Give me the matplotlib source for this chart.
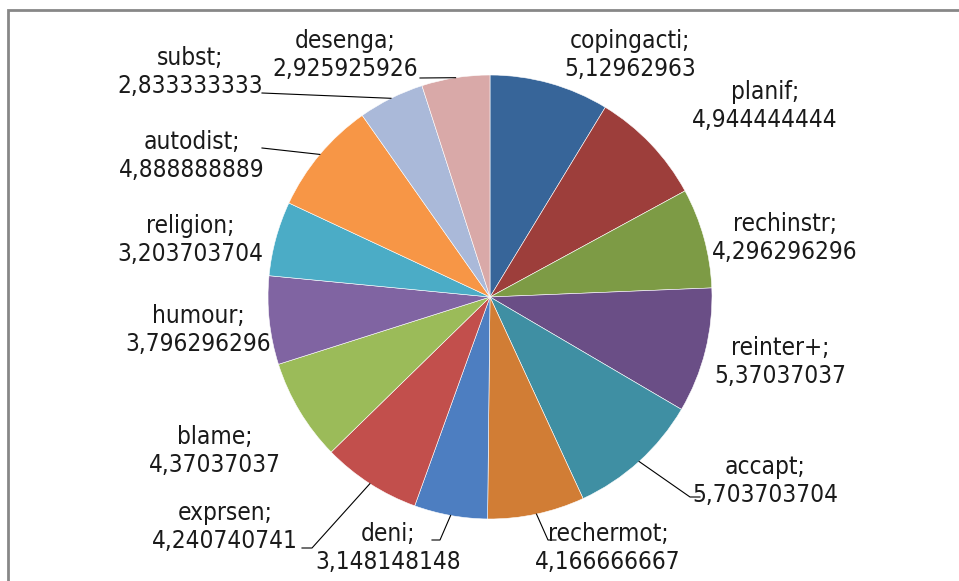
import matplotlib
matplotlib.use('Agg')
import numpy as np
from matplotlib import pyplot as plt
from matplotlib.patches import Rectangle

plt.rcParams['font.family'] = ['DejaVu Sans']

labels = ["copingacti", "planif", "rechinstr", "reinter+", "accapt", "rechermot", "deni",
          "exprsen", "blame", "humour", "religion", "autodist", "subst", "desenga"]
values = [5.12962963, 4.944444444, 4.296296296, 5.37037037, 5.703703704, 4.166666667,
          3.148148148, 4.240740741, 4.37037037, 3.796296296, 3.203703704, 4.888888889,
          2.833333333, 2.925925926]
value_text = ["5,12962963", "4,944444444", "4,296296296", "5,37037037", "5,703703704",
              "4,166666667", "3,148148148", "4,240740741", "4,37037037", "3,796296296",
              "3,203703704", "4,888888889", "2,833333333", "2,925925926"]
colors = ["#376599", "#9D3E3B", "#7D9B45", "#6A4E86", "#3F8FA3", "#D17D35", "#4D7EC1",
          "#C24F4C", "#9BBB59", "#8064A2", "#4BACC6", "#F79646", "#AAB9D9", "#D9A9A8"]

# centre of each two-line label, in pixels
label_pos = [(630, 55), (765, 106), (785, 238), (780, 362), (765, 481), (608, 548),
             (388, 548), (225, 527), (215, 451), (198, 330), (190, 240), (192, 156),
             (190, 72), (345, 55)]
# leader lines: knee point and end point, pixels
leaders = {4: [(690, 497), (700, 497)],
           5: [(548, 540), (556, 540)],
           6: [(440, 540), (432, 540)],
           7: [(312, 548), (302, 548)],
           11: [(262, 148), (262, 148)],
           12: [(262, 93), (262, 93)],
           13: [(420, 78), (420, 78)]}

W, H = 959, 581
cx, cy, R = 490, 297, 222

fig = plt.figure(figsize=(9.59, 5.81), dpi=100)
ax = fig.add_axes([0, 0, 1, 1])
ax.axis('off')


def px(p):
    return ((p[0] - cx) / R, (cy - p[1]) / R)


wedges, _ = ax.pie(values, colors=colors, startangle=90, counterclock=False, radius=1,
                   wedgeprops=dict(edgecolor='white', linewidth=0.4))
ax.set_xlim(-cx / R, (W - cx) / R)
ax.set_ylim(-(H - cy) / R, cy / R)
ax.set_aspect('equal')

for i, w in enumerate(wedges):
    x, y = px(label_pos[i])
    ax.text(x, y, labels[i] + ";\n" + value_text[i], ha='center', va='center',
            fontsize=17.5, fontstretch='condensed', linespacing=1.2, color='#1a1a1a')
    if i in leaders:
        a = np.deg2rad((w.theta1 + w.theta2) / 2)
        pts = [(np.cos(a), np.sin(a))] + [px(p) for p in leaders[i]]
        xs, ys = zip(*pts)
        ax.plot(xs, ys, color='black', lw=0.8)

# chart area border (open at right and bottom, as in the crop)
fig.patches.append(Rectangle((8 / W, -0.1), 1.2, (H - 10) / H + 0.1, transform=fig.transFigure,
                             fill=False, edgecolor='#878787', lw=2))

fig.savefig('out.png', dpi=100)
